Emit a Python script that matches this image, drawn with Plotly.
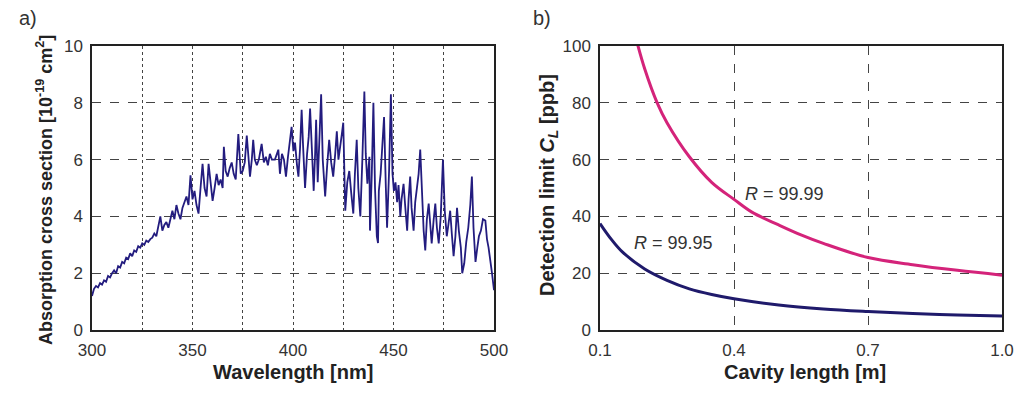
import plotly.graph_objects as go

# ---- panel a) absorption spectrum (read from picture) ----
wavelength = [300,301,302,303,304,305,306,307,308,309,310,311,312,313,314,315,316,317,318,319,320,
 321,322,323,324,325,326,327,328,329,330,331,332,333,334,335,336,337,338,339,340,341,342,343,344,345,
 346,347,348,349,350,351,352,353,354,355,356,357,358,359,360,361,362,363,364,365,365.6,366.5,367.5,
 368.5,369.5,370.5,371.5,372.8,374,375,376,377,378,378.6,379.5,380.2,381,382,383,384.4,385.5,386.5,
 387.5,388.5,389.5,391,392,392.7,393.5,394.5,395.5,396.5,397.5,398.5,399.3,400.2,401,402,402.7,403.5,
 404.3,405,406,407,407.8,408.5,409.5,410.3,411,411.5,412.3,413,414,414.8,415.5,416,417,418,419,420,
 421,421.8,422.6,423.5,424.3,425,425.6,426,427,428,429,430,430.8,431.7,432.5,433.5,434.5,435.5,436.2,
 437,438,438.3,439.2,440,440.8,441.7,442.3,442.7,443.6,444.5,445.3,446.2,446.8,447.8,448.7,449.5,450.2,
 451,451.8,452.5,453.4,454,455,456,456.8,457.5,458.3,459,460,460.8,461.7,462.5,463.3,464.2,465,465.8,
 466.6,467.5,468.3,469,470,470.8,471.6,472.5,473.5,474.6,475.5,476.5,477.3,478.2,479,479.9,480.8,
 481.6,482.5,483.5,484.2,485.2,486.2,487.2,488.2,489,489.8,490.8,491.7,492.5,493.5,494.5,495.7,
 496.5,497.3,498.2,499,500]
cross_section = [1.2,1.45,1.55,1.5,1.65,1.6,1.75,1.7,1.9,1.85,2.0,2.1,2.0,2.25,2.2,2.4,2.35,2.55,2.5,2.7,2.6,
 2.8,2.75,2.95,2.9,3.05,3.0,3.15,3.1,3.2,3.25,3.4,3.3,3.6,4.0,3.5,3.7,3.8,3.6,3.9,4.2,3.9,4.4,4.1,3.9,4.3,
 4.5,4.7,4.4,5.45,4.6,4.9,4.4,4.1,5.0,5.85,5.0,4.7,5.85,5.2,4.55,5.0,5.5,5.1,5.3,5.0,6.45,5.6,5.4,
 5.7,5.9,5.5,5.3,6.9,5.5,5.6,5.9,6.85,5.7,5.4,6.0,6.7,6.0,5.8,6.0,6.55,5.9,6.1,
 5.8,6.2,6.0,6.0,6.2,6.35,5.5,6.2,6.0,5.4,6.1,6.6,7.15,6.3,6.6,5.8,5.4,6.4,
 7.75,6.5,5.0,6.2,6.8,7.8,5.8,4.9,6.2,7.4,5.2,6.5,8.3,6.0,5.2,4.7,5.8,6.7,5.9,5.4,
 6.2,7.0,6.0,6.6,6.9,7.3,5.0,4.2,5.2,5.6,4.8,4.1,5.5,6.7,5.0,4.0,6.0,8.4,6.2,
 5.15,6.1,3.5,5.5,8.0,5.0,3.3,3.06,4.9,5.5,6.5,7.5,5.0,3.6,5.6,8.3,5.5,4.9,
 5.2,4.5,5.1,4.0,4.6,5.15,4.2,3.5,4.6,5.4,4.3,3.5,4.5,5.15,5.5,6.35,4.5,3.5,2.8,
 3.9,4.45,3.8,3.05,3.9,4.45,3.6,3.05,4.0,6.0,4.2,3.3,3.7,4.2,3.4,2.6,3.3,
 4.3,3.5,2.9,2.0,2.35,3.1,3.6,4.4,5.4,3.6,2.4,2.9,3.3,3.5,3.9,3.85,
 3.2,2.9,2.5,2.0,1.4]

# ---- panel b) detection limit vs cavity length ----
length_r9999 = [0.18,0.2,0.228,0.25,0.3,0.35,0.4,0.44,0.5,0.55,0.6,0.7,0.8,0.9,1.0]
limit_r9999 = [103,92,80,73,61,52,46,41.5,37,33.5,30.5,25.5,23,21,19.3]
length_r9995 = [0.1,0.125,0.15,0.2,0.25,0.3,0.35,0.4,0.5,0.6,0.7,0.8,0.9,1.0]
limit_r9995 = [37.5,32,27.5,21.5,17.5,14.5,12.5,11,8.8,7.4,6.5,5.8,5.3,4.9]

FONT = "Liberation Sans, Arial, sans-serif"
TXT = "#333333"
GRID = "#444444"
W, H = 1024, 396
OX, OY = 8, 8  # page body margin compensation


def px(x):
    return (x - OX) / W


def py(y):
    return 1 - (y - OY) / H


fig = go.Figure()
fig.add_trace(go.Scatter(x=wavelength, y=cross_section, mode="lines",
                         line=dict(color="#231c7f", width=1.8), xaxis="x", yaxis="y",
                         showlegend=False))
fig.add_trace(go.Scatter(x=length_r9999, y=limit_r9999, mode="lines",
                         line=dict(color="#d4237a", width=3, shape="spline"),
                         xaxis="x2", yaxis="y2", showlegend=False))
fig.add_trace(go.Scatter(x=length_r9995, y=limit_r9995, mode="lines",
                         line=dict(color="#1f1a6b", width=3, shape="spline"),
                         xaxis="x2", yaxis="y2", showlegend=False))

ax_common = dict(showline=True, linecolor="#222222", linewidth=1.5, mirror=True, automargin=False,
                 ticks="", zeroline=False, ticklabelstandoff=4,
                 tickfont=dict(family=FONT, size=17, color=TXT))

ydom = [py(330), py(46)]
fig.update_layout(
    template="none",
    width=W, height=H, paper_bgcolor="white", plot_bgcolor="white",
    margin=dict(l=0, r=0, t=0, b=0, pad=0),
    xaxis=dict(domain=[px(92), px(494)], range=[300, 500], tickvals=[300,350,400,450,500],
               showgrid=True, gridcolor=GRID, griddash="dot", gridwidth=1,
               minor=dict(tickvals=[325,375,425,475], showgrid=True, gridcolor=GRID,
                          griddash="dot", gridwidth=1), anchor="y", **ax_common),
    yaxis=dict(domain=ydom, range=[0, 10], tickvals=[0,2,4,6,8,10],
               showgrid=True, gridcolor=GRID, griddash="dash", gridwidth=1,
               anchor="x", **ax_common),
    xaxis2=dict(domain=[px(600), px(1002)], range=[0.1, 1.0], tickvals=[0.1,0.4,0.7,1.0],
                tickformat=".1f", showgrid=True, gridcolor=GRID, griddash="dash", gridwidth=1,
                anchor="y2", **ax_common),
    yaxis2=dict(domain=ydom, range=[0, 100], tickvals=[0,20,40,60,80,100],
                showgrid=True, gridcolor=GRID, griddash="dash", gridwidth=1,
                anchor="x2", **ax_common),
)

ann = []
ann.append(dict(text="a)", x=px(17), y=py(18), xref="paper", yref="paper", showarrow=False,
                xanchor="left", yanchor="middle", font=dict(family=FONT, size=20, color=TXT)))
ann.append(dict(text="b)", x=px(531), y=py(18), xref="paper", yref="paper", showarrow=False,
                xanchor="left", yanchor="middle", font=dict(family=FONT, size=20, color=TXT)))
ann.append(dict(text="<b>Wavelength [nm]</b>", x=px(293), y=py(372), xref="paper", yref="paper",
                showarrow=False, xanchor="center", yanchor="middle",
                font=dict(family=FONT, size=20, color="#222222")))
ann.append(dict(text="<b>Cavity length [m]</b>", x=px(805), y=py(372), xref="paper", yref="paper",
                showarrow=False, xanchor="center", yanchor="middle",
                font=dict(family=FONT, size=20, color="#222222")))
ann.append(dict(text="<b>Absorption cross section [10<sup>-19</sup> cm<sup>2</sup>]</b>",
                x=px(45), y=py(190), xref="paper", yref="paper", showarrow=False, textangle=-90,
                xanchor="center", yanchor="middle", font=dict(family=FONT, size=18, color="#222222")))
ann.append(dict(text="<b>Detection limit <i>C<sub>L</sub></i> [ppb]</b>",
                x=px(548), y=py(185), xref="paper", yref="paper", showarrow=False, textangle=-90,
                xanchor="center", yanchor="middle", font=dict(family=FONT, size=20, color="#222222")))
ann.append(dict(text="<i>R</i> = 99.99", x=0.42, y=48, xref="x2", yref="y2", showarrow=False,
                xanchor="left", yanchor="middle", font=dict(family=FONT, size=18, color=TXT)))
ann.append(dict(text="<i>R</i> = 99.95", x=0.171, y=30.6, xref="x2", yref="y2", showarrow=False,
                xanchor="left", yanchor="middle", font=dict(family=FONT, size=18, color=TXT)))
fig.update_layout(annotations=ann)

fig.write_html("out.html")
